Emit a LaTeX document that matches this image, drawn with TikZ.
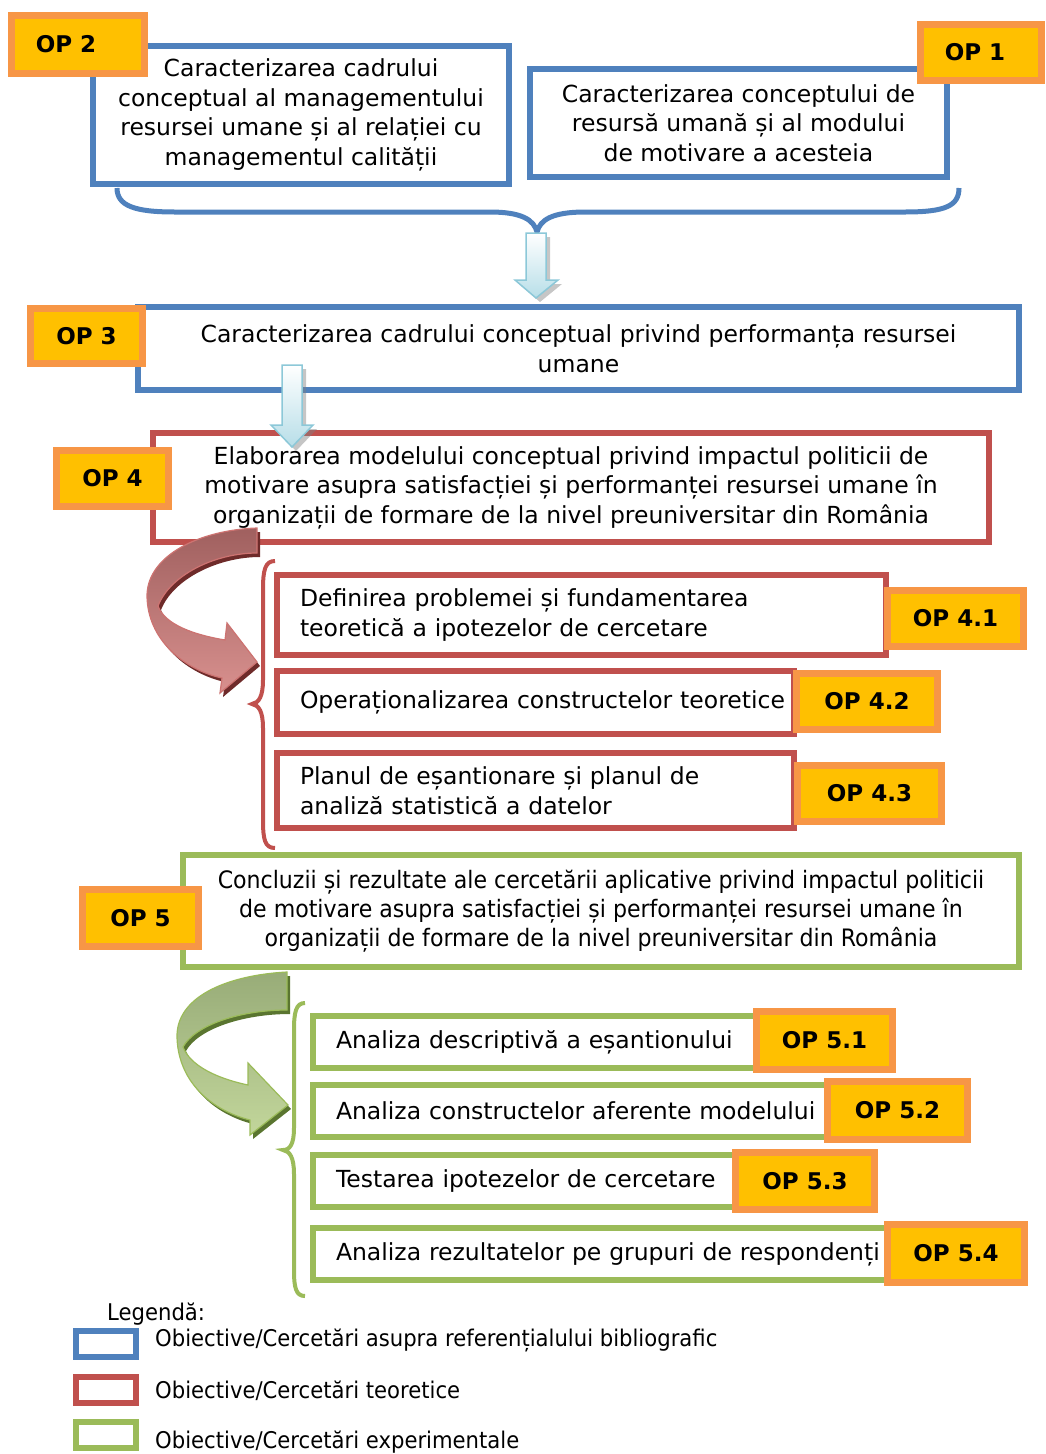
\documentclass[tikz,border=0pt]{standalone}
\usepackage{fontspec}
\setmainfont{DejaVu Sans}
\newfontfamily\condfont[FakeStretch=0.92]{DejaVu Sans}
\usetikzlibrary{positioning}
\definecolor{opblue}{HTML}{4F81BD}
\definecolor{opred}{HTML}{C0504D}
\definecolor{opgreen}{HTML}{9BBB59}
\definecolor{oporange}{HTML}{F79646}
\definecolor{opyellow}{HTML}{FFC000}
\definecolor{arrowblue}{HTML}{B7DEE8}
\definecolor{arrowedge}{HTML}{8CC8D8}
\definecolor{redtop}{HTML}{A0605F}
\definecolor{redlow}{HTML}{D8908E}
\definecolor{reddark}{HTML}{6E2B2A}
\definecolor{greentop}{HTML}{98AC78}
\definecolor{greenlow}{HTML}{C2D69B}
\definecolor{greendark}{HTML}{5A7530}
\newcommand{\boxfont}{\fontsize{23.5}{29.5}\selectfont}
\newcommand{\condboxfont}{\condfont\fontsize{24}{29}\selectfont}
\newcommand{\labelfont}{\bfseries\fontsize{23}{27}\selectfont}
\newcommand{\legfont}{\condfont\fontsize{23}{27}\selectfont}
\tikzset{
  opbox/.style={line width=6pt, fill=white, inner sep=0pt, align=center, font=\boxfont},
  bluebox/.style={opbox, draw=opblue},
  redbox/.style={opbox, draw=opred},
  greenbox/.style={opbox, draw=opgreen},
  leftbox/.style={align=left},
  oplabel/.style={draw=oporange, fill=opyellow, line width=6.5pt, inner sep=0pt, font=\labelfont},
  blockarrow/.style={preaction={fill=black!50, opacity=.45, transform canvas={shift={(4,4)}}},
    top color=white, bottom color=arrowblue, draw=arrowedge, line width=1.5pt},
  redcurl/.style={preaction={fill=reddark, transform canvas={shift={(3,4)}}},
    top color=redtop, bottom color=redlow, draw=opred!80!white, line width=1.2pt},
  greencurl/.style={preaction={fill=greendark, transform canvas={shift={(3,4)}}},
    top color=greentop, bottom color=greenlow, draw=opgreen, line width=1.2pt},
  legtext/.style={anchor=west, inner sep=0pt, font=\legfont},
  legbox/.style={line width=6pt, fill=white, minimum width=60, minimum height=26, inner sep=0pt}
}
\begin{document}
\begin{tikzpicture}[x=1pt,y=-1pt]
\useasboundingbox (0,0) rectangle (1045,1454);
% blue boxes
\node[bluebox, minimum width=416, minimum height=138] (op2box) at (301,115)
  {Caracterizarea cadrului\\conceptual al managementului\\resursei umane și al relației cu\\managementul calității};
\node[bluebox, minimum width=417, minimum height=108] (op1box) at (738.5,123)
  {Caracterizarea conceptului de\\resursă umană și al modului\\de motivare a acesteia};
\draw[opblue, line width=5pt] (117,188) .. controls (117,206) and (135,212) .. (175,212)
  -- (490,212) .. controls (522,212) and (534,220) .. (537,232)
  .. controls (540,220) and (552,212) .. (585,212)
  -- (905,212) .. controls (945,212) and (959,206) .. (959,188);
\node[bluebox, minimum width=881, minimum height=83] (op3box) at (578.5,348.5)
  {Caracterizarea cadrului conceptual privind performanța resursei\\umane};
% red boxes
\node[redbox, minimum width=836, minimum height=109] (op4box) at (571,487.5)
  {Elaborarea modelului conceptual privind impactul politicii de\\motivare asupra satisfacției și performanței resursei umane în\\organizații de formare de la nivel preuniversitar din România};
\node[redbox, leftbox, minimum width=609, minimum height=80, text width=563] (op41box) at (581.5,615)
  {Definirea problemei și fundamentarea\\teoretică a ipotezelor de cercetare};
\node[redbox, leftbox, minimum width=517, minimum height=63, text width=471] (op42box) at (535.5,702.5)
  {\mbox{Operaționalizarea constructelor teoretice}};
\node[redbox, leftbox, minimum width=517, minimum height=75, text width=471] (op43box) at (535.5,790.5)
  {Planul de eșantionare și planul de\\analiză statistică a datelor};
\draw[opred, line width=4pt] (275,561) .. controls (265,561) and (263,570) .. (263,590)
  -- (263,680) .. controls (263,696) and (259,703) .. (252,704)
  .. controls (259,705) and (263,712) .. (263,728)
  -- (263,820) .. controls (263,840) and (265,848) .. (275,848);
% green boxes
\node[greenbox, minimum width=836, minimum height=112, font=\condboxfont] (op5box) at (601,911)
  {Concluzii și rezultate ale cercetării aplicative privind impactul politicii\\de motivare asupra satisfacției și performanței resursei umane în\\organizații de formare de la nivel preuniversitar din România};
\node[greenbox, leftbox, minimum width=464, minimum height=52, text width=418] (op51box) at (545,1042)
  {Analiza descriptivă a eșantionului};
\node[greenbox, leftbox, minimum width=534, minimum height=52, text width=488] (op52box) at (580,1111)
  {Analiza constructelor aferente modelului};
\node[greenbox, leftbox, minimum width=444, minimum height=52, text width=398] (op53box) at (535,1181)
  {Testarea ipotezelor de cercetare};
\node[greenbox, leftbox, minimum width=594, minimum height=52, text width=548] (op54box) at (610,1254)
  {Analiza rezultatelor pe grupuri de respondenți};
\draw[opgreen, line width=4pt] (305,1003) .. controls (296,1003) and (294,1012) .. (294,1030)
  -- (294,1128) .. controls (294,1144) and (290,1150) .. (283,1150)
  .. controls (290,1151) and (294,1158) .. (294,1174)
  -- (294,1270) .. controls (294,1288) and (296,1296) .. (305,1296);
% block arrows
\shade[blockarrow] (526,233) -- (546,233) -- (546,280) -- (558,280) -- (536,298)
  -- (515,280) -- (526,280) -- cycle;
\shade[blockarrow] (282,365) -- (302,365) -- (302,425) -- (313,425) -- (292,447)
  -- (271,425) -- (282,425) -- cycle;
% curved arrows
\shade[redcurl] (257,528) .. controls (200,530) and (148,555) .. (147,595)
  .. controls (147,640) and (185,670) .. (222,678) -- (220,693) -- (257,662)
  -- (227,623) -- (225,640) .. controls (195,635) and (165,625) .. (158,606)
  .. controls (170,575) and (215,553) .. (257,553) -- cycle;
\shade[greencurl] (287,972) .. controls (230,975) and (178,995) .. (177,1035)
  .. controls (177,1080) and (210,1110) .. (250,1120) -- (250,1135) -- (288,1105)
  -- (248,1063) -- (248,1085) .. controls (215,1078) and (190,1065) .. (183,1047)
  .. controls (195,1025) and (240,1010) .. (287,1010) -- cycle;
% labels
\node[oplabel, minimum width=133, minimum height=58] (op2label) at (78,44.5) {\hspace*{-24pt}OP 2};
\node[oplabel, minimum width=121, minimum height=56] (op1label) at (981,52.5) {\hspace*{-12pt}OP 1};
\node[oplabel, minimum width=112, minimum height=55] (op3label) at (86.5,336) {OP 3};
\node[oplabel, minimum width=112, minimum height=56] (op4label) at (112.5,478.5) {OP 4};
\node[oplabel, minimum width=136, minimum height=56] (op41label) at (955.5,618.5) {OP 4.1};
\node[oplabel, minimum width=141, minimum height=56] (op42label) at (867,701.5) {OP 4.2};
\node[oplabel, minimum width=144, minimum height=56] (op43label) at (869.5,793.5) {OP 4.3};
\node[oplabel, minimum width=116, minimum height=57] (op5label) at (140.5,918) {OP 5};
\node[oplabel, minimum width=136, minimum height=58] (op51label) at (824.5,1040.5) {OP 5.1};
\node[oplabel, minimum width=140, minimum height=58] (op52label) at (897.5,1110.5) {OP 5.2};
\node[oplabel, minimum width=139, minimum height=57] (op53label) at (805,1181) {OP 5.3};
\node[oplabel, minimum width=137, minimum height=58] (op54label) at (956,1253.5) {OP 5.4};
% legend
\node[legtext] (legtitle) at (107,1314) {Legendă:};
\node[legbox, draw=opblue] (legblue) at (106,1343.5) {};
\node[legtext] (legbluetext) at (155,1340) {Obiective/Cercetări asupra referențialului bibliografic};
\node[legbox, draw=opred] (legred) at (106,1390) {};
\node[legtext] (legredtext) at (155,1391) {Obiective/Cercetări teoretice};
\node[legbox, draw=opgreen] (leggreen) at (106,1435) {};
\node[legtext] (leggreentext) at (155,1442) {Obiective/Cercetări experimentale};
\end{tikzpicture}
\end{document}
